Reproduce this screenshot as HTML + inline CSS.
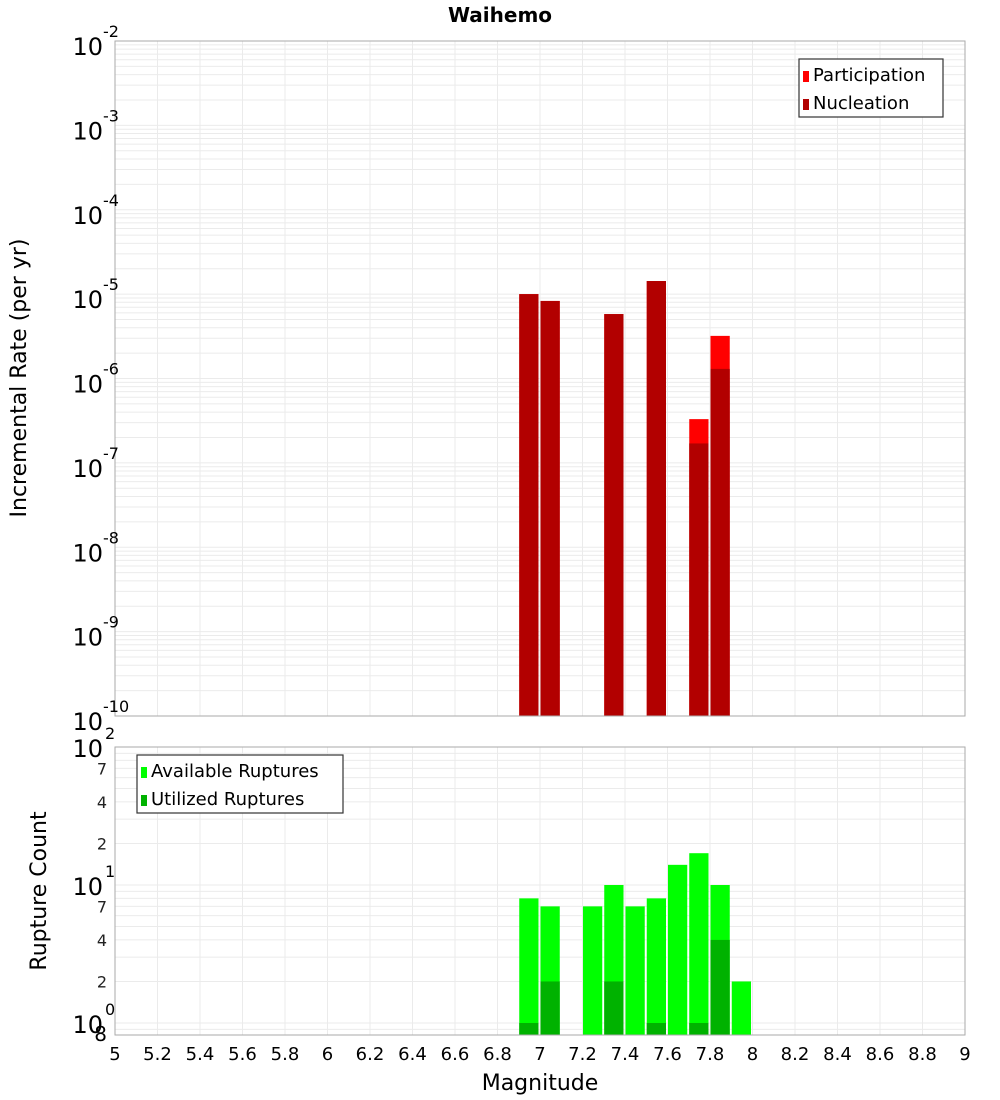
<!DOCTYPE html>
<html><head><meta charset="utf-8"><style>
html,body{margin:0;padding:0;background:#fff;}
svg{display:block;font-family:"DejaVu Sans","Liberation Sans",sans-serif;}
</style></head><body>
<svg id="c" width="1000" height="1100" xmlns="http://www.w3.org/2000/svg"></svg>
<script>
const mags = [6.95, 7.05, 7.35, 7.55, 7.75, 7.85];
const participation = [1.0e-5, 8.3e-6, 5.8e-6, 1.43e-5, 3.3e-7, 3.2e-6];
const nucleation = [1.0e-5, 8.3e-6, 5.8e-6, 1.43e-5, 1.7e-7, 1.3e-6];
const countMags = [6.95, 7.05, 7.25, 7.35, 7.45, 7.55, 7.65, 7.75, 7.85, 7.95];
const available = [8, 7, 7, 10, 7, 8, 14, 17, 10, 2];
const utilized = [1, 2, 0, 2, 0, 1, 0, 1, 4, 0];
const xTicks = ["5","5.2","5.4","5.6","5.8","6","6.2","6.4","6.6","6.8","7","7.2","7.4","7.6","7.8","8","8.2","8.4","8.6","8.8","9"];
const topExps = [-2,-3,-4,-5,-6,-7,-8,-9,-10];

const NS="http://www.w3.org/2000/svg";
const svg=document.getElementById('c');
function el(t,a,p){const e=document.createElementNS(NS,t);for(const k in a)e.setAttribute(k,a[k]);(p||svg).appendChild(e);return e;}
const X0=115,X1=965;
const xs=m=>X0+(m-5)/4*(X1-X0);
const T0=41,T1=716;
const yTop=v=>T0+(-2-Math.log10(v))/8*(T1-T0);
const B0=747,B1=1035;
const yBot=v=>B0+(2-Math.log10(v))*138;

// title
const title=el('text',{x:500,y:22,'text-anchor':'middle','font-size':20,'font-weight':'bold'});
title.textContent='Waihemo';



function grid(y0,y1,yfn,decLo,decHi,gname){
  const g=el('g',{});
  
  
  for(let d=decLo;d<decHi;d++){for(let k=1;k<10;k++){const y=yfn(k*Math.pow(10,d));if(y>=y0&&y<=y1)el('line',{x1:X0,x2:X1,y1:y,y2:y,stroke:'#ebebeb','stroke-width':1},g);}}
  xTicks.forEach(t=>{const x=xs(+t);el('line',{x1:x,x2:x,y1:y0,y2:y1,stroke:'#ebebeb','stroke-width':1},g);});
}
grid(T0,T1,yTop,-10,-2,'top-grid');
grid(B0,B1,yBot,-1,2,'bottom-grid');

// top bars
mags.forEach((m,i)=>{
  const x=xs(m-0.05)+0.5,w=xs(m+0.05)-xs(m-0.05)-2;
  const p=el('rect',{x:x,y:yTop(participation[i]),width:w,height:T1-yTop(participation[i]),fill:'#ff0000'});
  
  
  const n=el('rect',{x:x,y:yTop(nucleation[i]),width:w,height:T1-yTop(nucleation[i]),fill:'#b20000'});
  
  
});
// bottom bars
countMags.forEach((m,i)=>{
  const x=xs(m-0.05)+0.5,w=xs(m+0.05)-xs(m-0.05)-2;
  const a=el('rect',{x:x,y:yBot(available[i]),width:w,height:B1-yBot(available[i]),fill:'#00ff00'});
  
  
  if(utilized[i]>0){
    const u=el('rect',{x:x,y:yBot(utilized[i]),width:w,height:B1-yBot(utilized[i]),fill:'#00b200'});
    
    
  }
});
// frames
el('rect',{x:X0,y:T0,width:X1-X0,height:T1-T0,fill:'none',stroke:'#aaa'});
el('rect',{x:X0,y:B0,width:X1-X0,height:B1-B0,fill:'none',stroke:'#aaa'});

// top y labels
topExps.forEach(e=>{
  const y=yTop(Math.pow(10,e));
  const t=el('text',{x:103,y:y+14,'text-anchor':'end','font-size':24});
  t.textContent='10';
  
  
  const s=el('text',{x:103,y:y-4,'font-size':16});
  s.textContent=String(e);
  
  
});
// bottom y labels
[[100,'2'],[10,'1'],[1,'0']].forEach(([v,e])=>{
  const y=yBot(v);
  const t=el('text',{x:103,y:y+10,'text-anchor':'end','font-size':24});
  t.textContent='10';
  
  
  const s=el('text',{x:105,y:y-8,'font-size':16});
  s.textContent=e;
  
  
});
[70,40,20,7,4,2].forEach(v=>{
  const t=el('text',{x:107,y:yBot(v)+6,'text-anchor':'end','font-size':16,fill:'#222'});
  t.textContent=String(v).replace(/0$/,'');
  
  
});
const e8=el('text',{x:107,y:1041,'text-anchor':'end','font-size':20});
e8.textContent='8';



// x ticks
xTicks.forEach(t=>{
  const tx=el('text',{x:xs(+t),y:1060,'text-anchor':'middle','font-size':18});
  tx.textContent=t;
  
  
});
const xl=el('text',{x:540,y:1090,'text-anchor':'middle','font-size':22});
xl.textContent='Magnitude';


const yl=el('text',{x:0,y:0,'text-anchor':'middle','font-size':22,transform:'translate(26,378) rotate(-90)'});
yl.textContent='Incremental Rate (per yr)';


const yl2=el('text',{x:0,y:0,'text-anchor':'middle','font-size':22,transform:'translate(46,891) rotate(-90)'});
yl2.textContent='Rupture Count';



function legend(x,y,w,items,name){
  const g=el('g',{});
  
  
  el('rect',{x:x,y:y,width:w,height:58,fill:'#fff',stroke:'#333','stroke-width':1.2},g);
  items.forEach(([c,l],i)=>{
    el('rect',{x:x+4,y:y+12+i*28,width:6,height:11,fill:c},g);
    const t=el('text',{x:x+14,y:y+22+i*28,'font-size':18},g);
    t.textContent=l;
  });
}
legend(799,59,144,[['#ff0000','Participation'],['#b20000','Nucleation']],'top-legend');
legend(137,755,206,[['#00ff00','Available Ruptures'],['#00b200','Utilized Ruptures']],'bottom-legend');
</script>
</body></html>
